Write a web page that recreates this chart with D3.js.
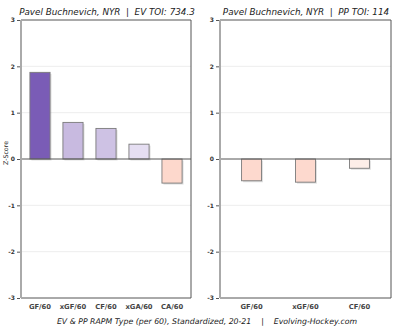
<!DOCTYPE html>
<html><head><meta charset="utf-8">
<script src="https://cdn.jsdelivr.net/npm/d3@7"></script>
<style>body{margin:0;background:#fff}svg{display:block}</style>
</head><body>
<svg id="c" width="400" height="329"></svg>
<script>
const yTicks = [-3, -2, -1, 0, 1, 2, 3];
const evCategories = ["GF/60", "xGF/60", "CF/60", "xGA/60", "CA/60"];
const evValues = [1.87, 0.79, 0.66, 0.32, -0.52];
const evColors = ["#7a5cb6", "#c8bae0", "#cec2e4", "#e5def2", "#fdd8cc"];
const ppCategories = ["GF/60", "xGF/60", "CF/60"];
const ppValues = [-0.47, -0.50, -0.20];
const ppColors = ["#fdd9ce", "#fdd9ce", "#fdeee8"];
const evTitle = "Pavel Buchnevich, NYR  |  EV TOI: 734.3";
const ppTitle = "Pavel Buchnevich, NYR  |  PP TOI: 114";
const footer = "EV & PP RAPM Type (per 60), Standardized, 20-21    |    Evolving-Hockey.com";

(function () {
const svg = d3.select("#c");
const plotTop = 20, plotBottom = 298;
const y = d3.scaleLinear().domain([-3, 3]).range([plotBottom, plotTop]);
const font = "DejaVu Sans";

function panel(x0, x1, cats, vals, cols, title, titleX, padIn, padOut, ylabel) {
  const g = svg.append("g");
  const x = d3.scaleBand().domain(cats).range([x0, x1]).paddingInner(padIn).paddingOuter(padOut);
  g.selectAll(".grid").data(yTicks.filter(t => t !== 0 && Math.abs(t) !== 3)).join("line")
    .attr("x1", x0).attr("x2", x1).attr("y1", d => y(d)).attr("y2", d => y(d))
    .attr("stroke", "#e8e8e8").attr("stroke-width", 0.8);
  g.selectAll(".sh").data(vals).join("rect")
    .attr("x", (d, i) => x(cats[i]) + 1.5)
    .attr("y", d => Math.min(y(d), y(0)) + 1.5)
    .attr("width", x.bandwidth())
    .attr("height", d => Math.abs(y(d) - y(0)))
    .attr("fill", "#000").attr("fill-opacity", 0.12);
  g.selectAll(".bar").data(vals).join("rect")
    .attr("x", (d, i) => x(cats[i]))
    .attr("y", d => Math.min(y(d), y(0)))
    .attr("width", x.bandwidth())
    .attr("height", d => Math.abs(y(d) - y(0)))
    .attr("fill", (d, i) => cols[i])
    .attr("stroke", "#7a7a7a").attr("stroke-width", 0.9);
  g.append("line").attr("x1", x0).attr("x2", x1).attr("y1", y(0)).attr("y2", y(0))
    .attr("stroke", "#555").attr("stroke-width", 1);
  g.append("path").attr("d", `M${x0},${plotTop}H${x1}V${plotBottom}H${x0}`)
    .attr("fill", "none").attr("stroke", "#555").attr("stroke-width", 1);
  g.append("line").attr("x1", x0).attr("x2", x0).attr("y1", plotTop).attr("y2", plotBottom)
    .attr("stroke", "#aaa").attr("stroke-width", 2);
  const ya = d3.axisLeft(y).tickValues(yTicks).tickSize(3).tickFormat(d => String(d));
  const yg = g.append("g").attr("transform", `translate(${x0 - 1},0)`).call(ya);
  yg.select(".domain").remove();
  yg.selectAll("line").attr("stroke", "#555");
  yg.selectAll("text").attr("font-family", font).attr("font-size", 6).attr("font-weight", "bold")
    .attr("fill", "#333").attr("dx", 1);
  const xa = d3.axisBottom(x).tickSize(0).tickPadding(6);
  const xg = g.append("g").attr("transform", `translate(0,${plotBottom})`).call(xa);
  xg.select(".domain").remove();
  xg.selectAll("text").attr("font-family", font).attr("font-size", 6.8).attr("font-weight", "bold").attr("fill", "#444");
  g.append("text").attr("x", titleX).attr("y", 15).attr("text-anchor", "middle")
    .attr("font-family", font).attr("font-style", "italic").attr("font-size", 8.8).attr("fill", "#222")
    .style("white-space", "pre").text(title);
  if (ylabel) {
    g.append("text").attr("transform", `translate(8,153) rotate(-90)`).attr("text-anchor", "middle")
      .attr("font-family", font).attr("font-size", 6.3).attr("fill", "#222").text(ylabel);
  }
}
panel(21, 191, evCategories, evValues, evColors, evTitle, 107, 0.39, 0.27, "Z-Score");
panel(220, 391, ppCategories, ppValues, ppColors, ppTitle, 306, 0.63, 0.4, null);

svg.append("text").attr("x", 207).attr("y", 324).attr("text-anchor", "middle")
  .attr("font-family", font).attr("font-style", "italic").attr("font-size", 7.8).attr("fill", "#222")
  .style("white-space", "pre").text(footer);
})();
</script>
</body></html>
